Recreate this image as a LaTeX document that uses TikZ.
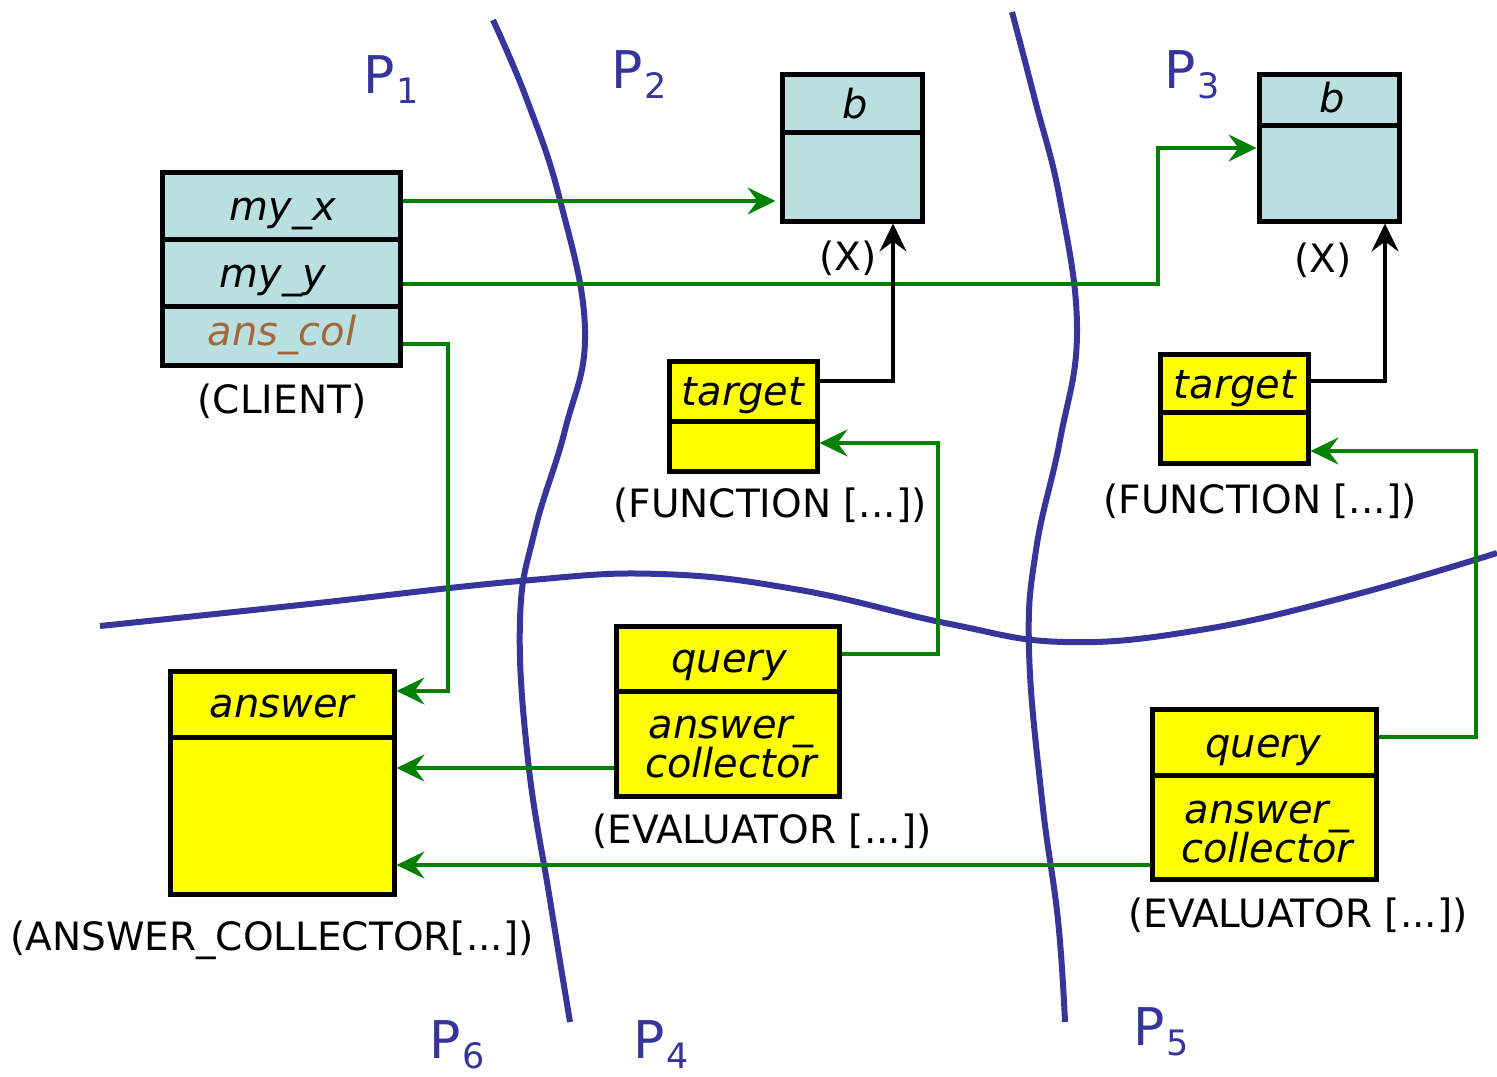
\documentclass[tikz,border=0pt]{standalone}
\usepackage{fontspec}
\setmainfont{DejaVu Sans}
\usetikzlibrary{arrows.meta}

\definecolor{cellblue}{RGB}{185,223,225}
\definecolor{cellyellow}{RGB}{255,255,0}
\definecolor{linkgreen}{RGB}{0,128,0}
\definecolor{borderblue}{RGB}{53,53,155}
\definecolor{fieldbrown}{RGB}{163,104,58}

\tikzset{
  cell/.style={draw=black, line width=2.5pt, inner sep=0pt, anchor=north west},
  bluecell/.style={cell, fill=cellblue},
  yellowcell/.style={cell, fill=cellyellow},
  fieldtext/.style={font=\fontsize{20}{24}\selectfont\itshape, inner sep=0pt, anchor=base},
  captiontext/.style={font=\fontsize{19.5}{24}\selectfont, inner sep=0pt, anchor=base},
  plabel/.style={font=\fontsize{26}{30}\selectfont, text=borderblue, inner sep=0pt, anchor=base west},
  partition/.style={draw=borderblue, line width=3pt},
  tip/.style={-{Stealth[length=14pt,width=13.5pt,inset=5pt]}},
  link/.style={draw=linkgreen, line width=1.75pt, tip},
  pointer/.style={draw=black, line width=1.75pt, tip}
}

% partition name with lowered index
\newcommand{\plab}[2]{#1\kern1pt\raisebox{-5pt}{\fontsize{17.5}{20}\selectfont #2}}

\begin{document}
\begin{tikzpicture}[x=0.5pt, y=-0.5pt]
\useasboundingbox (0,0) rectangle (1497,1076);

% partition boundaries
\draw[partition] plot[smooth, tension=0.7] coordinates
  {(493,20) (527,100) (560,200) (585,330) (565,430) (535,530) (520,620) (528,760) (550,900) (570,1022)};
\draw[partition] plot[smooth, tension=0.7] coordinates
  {(1012,12) (1035,100) (1060,200) (1077,330) (1060,440) (1036,550) (1029,650) (1042,800) (1058,920) (1065,1022)};
\draw[partition] plot[smooth, tension=0.7] coordinates
  {(100,626) (300,605) (520,581) (660,574) (800,590) (950,624) (1065,642) (1200,630) (1350,596) (1497,553)};

% partition labels
\node[plabel] (p1) at (363,93)   {\plab{P}{1}};
\node[plabel] (p2) at (611,88)   {\plab{P}{2}};
\node[plabel] (p3) at (1164,88)  {\plab{P}{3}};
\node[plabel] (p6) at (429,1058) {\plab{P}{6}};
\node[plabel] (p4) at (633,1058) {\plab{P}{4}};
\node[plabel] (p5) at (1133,1045){\plab{P}{5}};

% CLIENT object
\node[bluecell, minimum width=119pt, minimum height=33.25pt] (myx) at (160,170) {};
\node[bluecell, minimum width=119pt, minimum height=33.5pt]  (myy) at (160,236.5) {};
\node[bluecell, minimum width=119pt, minimum height=29.75pt] (anscol) at (160,303.5) {};
\node[fieldtext] (myxt) at (283,220) {my\_x};
\node[fieldtext] (myyt) at (273,287) {my\_y};
\node[fieldtext, text=fieldbrown] (anscolt) at (282,345) {ans\_col};
\node[captiontext] (client) at (282,413) {(CLIENT)};

% X object on P2
\node[bluecell, minimum width=70pt, minimum height=28.75pt] (bhi2) at (779.5,72) {};
\node[bluecell, minimum width=70pt, minimum height=44.5pt]  (blo2) at (779.5,129.5) {};
\node[fieldtext] (bt2) at (855,118) {b};
\node[captiontext] (x2) at (848,270) {(X)};

% X object on P3
\node[bluecell, minimum width=70pt, minimum height=25.25pt] (bhi3) at (1256.5,72) {};
\node[bluecell, minimum width=70pt, minimum height=48pt]    (blo3) at (1256.5,122.5) {};
\node[fieldtext] (bt3) at (1332,112) {b};
\node[captiontext] (x3) at (1323,272) {(X)};

% FUNCTION objects
\node[yellowcell, minimum width=74pt, minimum height=30pt] (tgtT2) at (666.5,358.5) {};
\node[yellowcell, minimum width=74pt, minimum height=25pt] (tgtB2) at (666.5,418.5) {};
\node[fieldtext] (tgtt2) at (743,405) {target};
\node[captiontext] (fun2) at (770,517) {(FUNCTION [...])};

\node[yellowcell, minimum width=74pt, minimum height=29pt]   (tgtT3) at (1157.5,351.5) {};
\node[yellowcell, minimum width=74pt, minimum height=25.5pt] (tgtB3) at (1157.5,409.5) {};
\node[fieldtext] (tgtt3) at (1235,398) {target};
\node[captiontext] (fun3) at (1260,513) {(FUNCTION [...])};

% EVALUATOR objects
\node[yellowcell, minimum width=111.5pt, minimum height=32.5pt] (qry4)  at (613.5,623.5) {};
\node[yellowcell, minimum width=111.5pt, minimum height=52.5pt] (acol4) at (613.5,688.5) {};
\node[fieldtext] (qryt4) at (729,672) {query};
\node[fieldtext] (acolta4) at (731,738) {answer\_};
\node[fieldtext] (acoltb4) at (731,777) {collector};
\node[captiontext] (eval4) at (762,843) {(EVALUATOR [...])};

\node[yellowcell, minimum width=112pt, minimum height=33pt] (qry5)  at (1149.5,706.5) {};
\node[yellowcell, minimum width=112pt, minimum height=52pt] (acol5) at (1149.5,772.5) {};
\node[fieldtext] (qryt5) at (1263,757) {query};
\node[fieldtext] (acolta5) at (1267,823) {answer\_};
\node[fieldtext] (acoltb5) at (1267,862) {collector};
\node[captiontext] (eval5) at (1298,927) {(EVALUATOR [...])};

% ANSWER_COLLECTOR object
\node[yellowcell, minimum width=112pt, minimum height=33pt]   (anstop) at (167.5,668.5) {};
\node[yellowcell, minimum width=112pt, minimum height=78.5pt] (ansbot) at (167.5,734.5) {};
\node[fieldtext] (anst) at (282,717) {answer};
\node[captiontext] (anscoll) at (272,950) {(ANSWER\_COLLECTOR[...])};

% references between objects
\draw[link, shorten >=2pt] (myx.east |- 0,201) -- (blo2.west |- 0,201);
\draw[link] (myy.east |- 0,284) -| (1158,148) -- (blo3.west |- 0,148);
\draw[link] (anscol.east |- 0,344) -| (448,691) -- (anstop.east |- 0,691);
\draw[link] (qry4.east |- 0,654) -| (938,443) -- (tgtB2.east |- 0,443);
\draw[link] (acol4.west |- 0,768) -- (ansbot.east |- 0,768);
\draw[link] (qry5.east |- 0,737) -| (1476,451) -- (tgtB3.east |- 0,451);
\draw[link] (acol5.west |- 0,865) -- (ansbot.east |- 0,865);

\draw[pointer] (tgtT2.east |- 0,381) -| (blo2.south -| 893,0);
\draw[pointer] (tgtT3.east |- 0,381) -| (blo3.south -| 1385,0);
\end{tikzpicture}
\end{document}
